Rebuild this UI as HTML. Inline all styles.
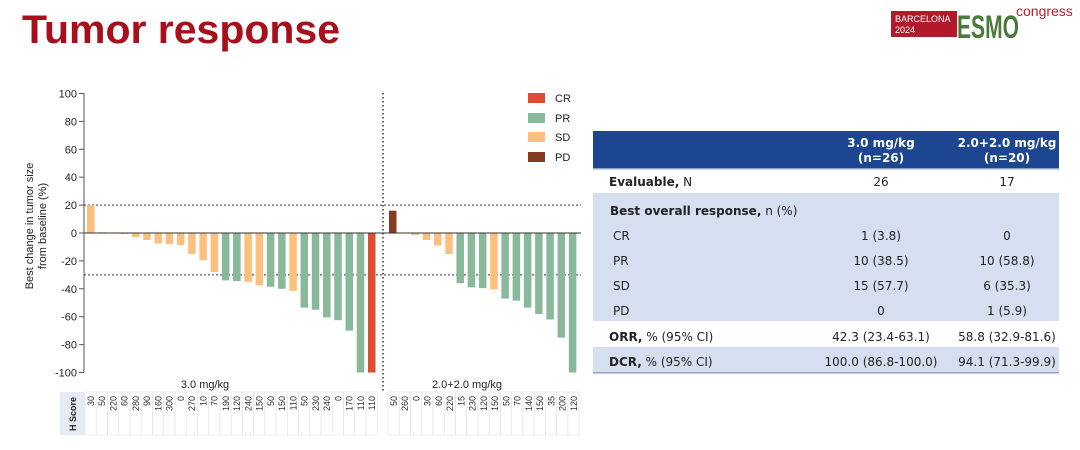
<!DOCTYPE html>
<html><head><meta charset="utf-8"><style>
body{margin:0;width:1080px;height:445px;background:#fff;overflow:hidden;font-family:"Liberation Sans",sans-serif}
</style></head><body>
<svg width="1080" height="445" xmlns="http://www.w3.org/2000/svg" font-family="Liberation Sans, sans-serif">
<text x="22" y="43" font-size="40" font-weight="bold" fill="#a80f1c" textLength="318" lengthAdjust="spacingAndGlyphs">Tumor response</text>
<rect x="891" y="11" width="66" height="26" fill="#b01a2a"/>
<text x="895" y="22" font-size="9" fill="#fff">BARCELONA</text>
<text x="895" y="33" font-size="9" fill="#fff">2024</text>
<text x="957" y="38" font-size="32" font-weight="bold" fill="#4a7a3a" textLength="62" lengthAdjust="spacingAndGlyphs">ESMO</text>
<text x="1016" y="16" font-size="14" fill="#c01a2a">congress</text>
<g id="chart"></g>
<g font-family="DejaVu Sans, sans-serif" font-size="12" fill="#222">
<rect x="593" y="131" width="466" height="37" fill="#1c4690"/>
<text x="881" y="147" text-anchor="middle" fill="#fff" font-weight="bold">3.0 mg/kg</text>
<text x="881" y="162" text-anchor="middle" fill="#fff" font-weight="bold">(n=26)</text>
<text x="1007" y="147" text-anchor="middle" fill="#fff" font-weight="bold">2.0+2.0 mg/kg</text>
<text x="1007" y="162" text-anchor="middle" fill="#fff" font-weight="bold">(n=20)</text>
<rect x="593" y="168" width="466" height="1.5" fill="#8fa3c8"/>
<rect x="593" y="193" width="466" height="128" fill="#d6dfef"/>
<rect x="593" y="347" width="466" height="26" fill="#d6dfef"/>
<rect x="593" y="372" width="466" height="1.5" fill="#8fa3c8"/>
<text x="609" y="186"><tspan font-weight="bold">Evaluable,</tspan> N</text>
<text x="881" y="186" text-anchor="middle">26</text><text x="1007" y="186" text-anchor="middle">17</text>
<text x="610" y="215"><tspan font-weight="bold">Best overall response,</tspan> n (%)</text>
<text x="613" y="240">CR</text><text x="881" y="240" text-anchor="middle">1 (3.8)</text><text x="1007" y="240" text-anchor="middle">0</text>
<text x="613" y="265">PR</text><text x="881" y="265" text-anchor="middle">10 (38.5)</text><text x="1007" y="265" text-anchor="middle">10 (58.8)</text>
<text x="613" y="290">SD</text><text x="881" y="290" text-anchor="middle">15 (57.7)</text><text x="1007" y="290" text-anchor="middle">6 (35.3)</text>
<text x="613" y="315">PD</text><text x="881" y="315" text-anchor="middle">0</text><text x="1007" y="315" text-anchor="middle">1 (5.9)</text>
<text x="609" y="341"><tspan font-weight="bold">ORR,</tspan> % (95% CI)</text>
<text x="881" y="341" text-anchor="middle">42.3 (23.4-63.1)</text><text x="1007" y="341" text-anchor="middle">58.8 (32.9-81.6)</text>
<text x="609" y="366"><tspan font-weight="bold">DCR,</tspan> % (95% CI)</text>
<text x="881" y="366" text-anchor="middle">100.0 (86.8-100.0)</text><text x="1007" y="366" text-anchor="middle">94.1 (71.3-99.9)</text>
</g>
</svg>
<script>
const NS="http://www.w3.org/2000/svg",g=document.getElementById("chart");
function el(t,a,txt){const e=document.createElementNS(NS,t);for(const k in a)e.setAttribute(k,a[k]);if(txt!==undefined)e.textContent=txt;g.appendChild(e);return e;}
const C={CR:"#dc4e31",PR:"#8ab89a",SD:"#fdbf7e",PD:"#843c22"};
const Y=v=>233-v*1.395;
el("line",{x1:84,y1:93,x2:84,y2:372,stroke:"#555","stroke-width":1});
for(let v=100;v>=-100;v-=20){el("line",{x1:79,y1:Y(v),x2:84,y2:Y(v),stroke:"#555"});el("text",{x:77,y:Y(v)+4,"text-anchor":"end","font-size":"11",fill:"#222"},v);}
el("text",{transform:"translate(33,226) rotate(-90)","text-anchor":"middle","font-size":"11",fill:"#222"},"Best change in tumor size");
el("text",{transform:"translate(46,226) rotate(-90)","text-anchor":"middle","font-size":"11",fill:"#222"},"from baseline (%)");
el("line",{x1:84,y1:Y(20),x2:581,y2:Y(20),stroke:"#333","stroke-dasharray":"2,2"});
el("line",{x1:84,y1:Y(-30),x2:581,y2:Y(-30),stroke:"#333","stroke-dasharray":"2,2"});
el("line",{x1:383,y1:93,x2:383,y2:393,stroke:"#333","stroke-width":1.5,"stroke-dasharray":"1.5,2.5"});
const g1=[[20,"SD"],[0.5,"SD"],[0,"SD"],[-0.8,"SD"],[-3,"SD"],[-5,"SD"],[-7.5,"SD"],[-8,"SD"],[-8.5,"SD"],[-15,"SD"],[-19.5,"SD"],[-28,"SD"],[-34,"PR"],[-34.5,"PR"],[-35,"SD"],[-37.5,"SD"],[-38.5,"PR"],[-40,"PR"],[-41.5,"SD"],[-53.5,"PR"],[-55,"PR"],[-60.5,"PR"],[-62.5,"PR"],[-70,"PR"],[-100,"PR"],[-100,"CR"]];
const g2=[[16,"PD"],[0,"SD"],[-1.5,"SD"],[-5,"SD"],[-9,"SD"],[-15,"SD"],[-36,"PR"],[-39,"PR"],[-39.5,"PR"],[-40.5,"SD"],[-47,"PR"],[-48.5,"PR"],[-53.5,"PR"],[-58,"PR"],[-62,"PR"],[-75,"PR"],[-100,"PR"]];
const h1=[30,50,220,60,280,90,160,300,0,270,10,70,190,120,240,150,50,150,110,50,230,240,0,170,110,110];
const h2=[50,260,0,30,60,220,15,230,120,150,50,70,140,150,35,200,120];
function bars(d,x0){d.forEach(([v,c],i)=>{const x=x0+i*11.24;el("rect",{x:x,y:Math.min(Y(v),233),width:7.5,height:Math.abs(Y(v)-233),fill:C[c]});});}
bars(g1,87);bars(g2,389);
el("line",{x1:84,y1:233,x2:581,y2:233,stroke:"#333","stroke-width":1});
el("text",{x:205,y:388,"font-size":"11",fill:"#222","text-anchor":"middle"},"3.0 mg/kg");
el("text",{x:467,y:388,"font-size":"11",fill:"#222","text-anchor":"middle"},"2.0+2.0 mg/kg");
[["CR",98],["PR",118],["SD",137],["PD",157]].forEach(([k,y])=>{el("rect",{x:528,y:y-5,width:17,height:10,fill:C[k]});el("text",{x:555,y:y+4,"font-size":"11",fill:"#222"},k);});
el("rect",{x:60,y:392,width:25,height:43,fill:"#e6eaf4"});
el("text",{transform:"translate(76,414) rotate(-90)","text-anchor":"middle","font-size":"9","font-weight":"bold",fill:"#222"},"H Score");
function tab(h,x0){h.forEach((s,i)=>{const x=x0+i*11.24;el("rect",{x:x,y:392,width:11.24,height:43,fill:"none",stroke:"#e2e2e2","stroke-width":0.6});el("text",{transform:`translate(${x+9},396) rotate(-90)`,"text-anchor":"end","font-size":"9",fill:"#333"},s);});}
tab(h1,85);tab(h2,388);
</script>
</body></html>
